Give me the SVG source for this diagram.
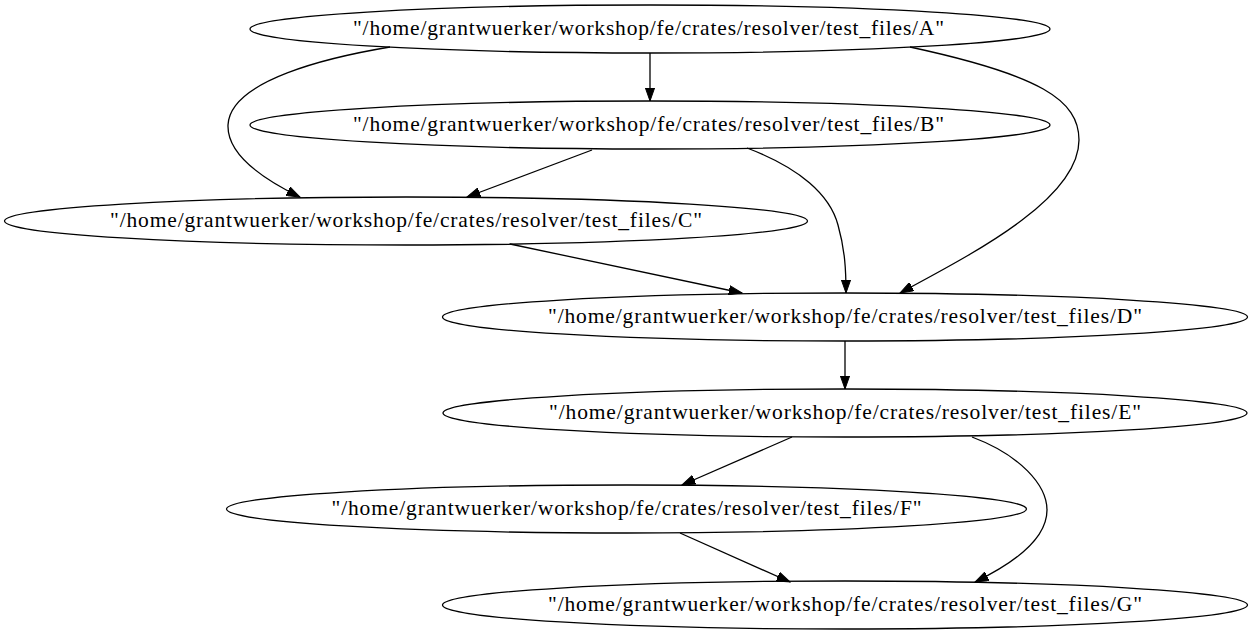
<svg xmlns="http://www.w3.org/2000/svg" width="1253" height="635" viewBox="0 0 1253 635">
<style>
.node ellipse{fill:none;stroke:#000;stroke-width:1.3}
.node text{font-family:"Liberation Serif","Times New Roman",serif;font-size:21.5px;text-anchor:middle;fill:#000}
.edges path{fill:none;stroke:#000;stroke-width:1.3;marker-end:url(#arr)}
</style>
<defs>
<marker id="arr" markerUnits="userSpaceOnUse" markerWidth="14" markerHeight="10" refX="13.3" refY="4.7" orient="auto" viewBox="0 0 14 9.4">
<path d="M0,0 L13.3,4.7 L0,9.4 z" fill="#000" stroke="#000" stroke-width="1"/>
</marker>
</defs>
<rect width="1253" height="635" fill="#fff"/>
<g class="edges">
<path d="M650,53 L650,101"/>
<path d="M390,47 C330,57 230,80 228,125 C227,155 265,180 300,197"/>
<path d="M910,47 C1040,75 1079,100 1079,140 C1079,200 970,255 900,293"/>
<path d="M592,150 L467,197"/>
<path d="M747,148 C800,168 830,195 838,225 C845,250 846,270 846,293"/>
<path d="M510,244 L742,293"/>
<path d="M845,341 L845,389"/>
<path d="M792,437 L682,485"/>
<path d="M972,437 C1020,455 1047,485 1047,510 C1047,540 1010,565 975,582"/>
<path d="M680,533 L790,582"/>
</g>
<g id="A" class="node"><ellipse cx="650" cy="29" rx="400" ry="24"/><text x="648.5" y="35" textLength="591" lengthAdjust="spacing">"/home/grantwuerker/workshop/fe/crates/resolver/test_files/A"</text></g>
<g id="B" class="node"><ellipse cx="650" cy="125" rx="400" ry="24"/><text x="648.5" y="131" textLength="591" lengthAdjust="spacing">"/home/grantwuerker/workshop/fe/crates/resolver/test_files/B"</text></g>
<g id="C" class="node"><ellipse cx="406" cy="221" rx="401.5" ry="24"/><text x="406" y="227" textLength="592" lengthAdjust="spacing">"/home/grantwuerker/workshop/fe/crates/resolver/test_files/C"</text></g>
<g id="D" class="node"><ellipse cx="845" cy="317" rx="402.5" ry="24"/><text x="845" y="323" textLength="594" lengthAdjust="spacing">"/home/grantwuerker/workshop/fe/crates/resolver/test_files/D"</text></g>
<g id="E" class="node"><ellipse cx="845" cy="413" rx="402" ry="24"/><text x="845" y="419" textLength="592" lengthAdjust="spacing">"/home/grantwuerker/workshop/fe/crates/resolver/test_files/E"</text></g>
<g id="F" class="node"><ellipse cx="626.5" cy="509" rx="400" ry="24"/><text x="626.5" y="515" textLength="590" lengthAdjust="spacing">"/home/grantwuerker/workshop/fe/crates/resolver/test_files/F"</text></g>
<g id="G" class="node"><ellipse cx="845" cy="605" rx="402.5" ry="24"/><text x="845" y="611" textLength="594" lengthAdjust="spacing">"/home/grantwuerker/workshop/fe/crates/resolver/test_files/G"</text></g>
</svg>
